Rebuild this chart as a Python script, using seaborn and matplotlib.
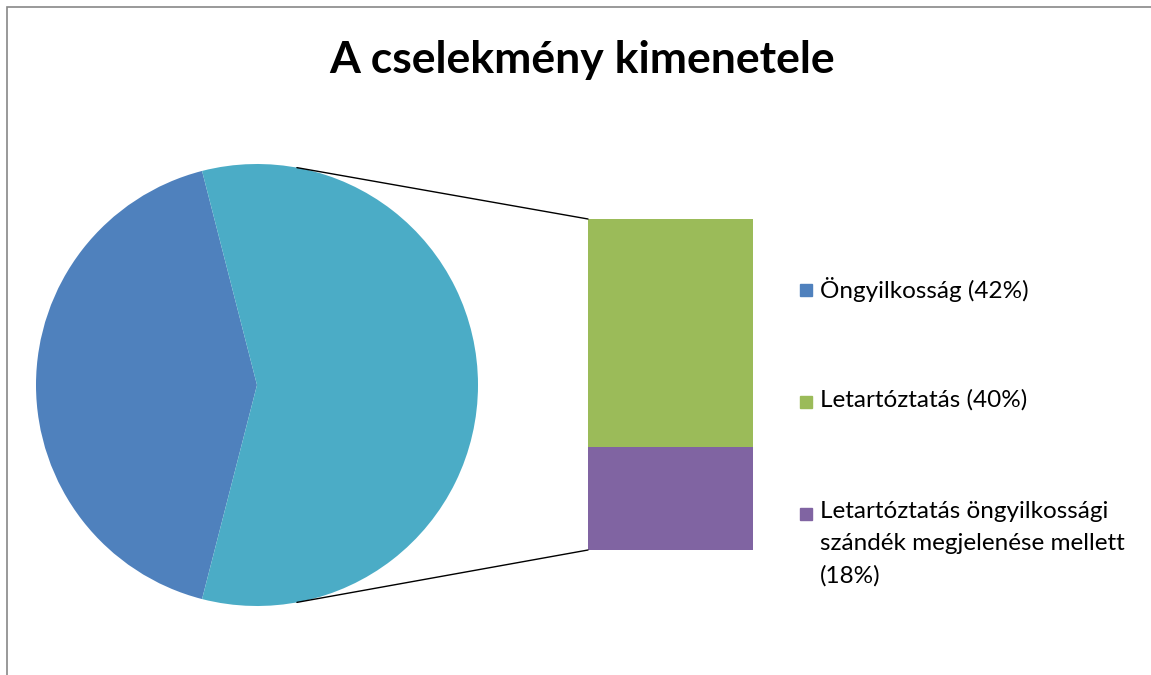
import numpy as np
import seaborn as sns
import matplotlib.pyplot as plt
from matplotlib.patches import ConnectionPatch, Rectangle

title = "A cselekmény kimenetele"
pie_labels = ["Öngyilkosság", "Letartóztatás (összesen)"]
pie_values = [42, 58]
bar_labels = ["Letartóztatás öngyilkossági\nszándék megjelenése mellett\n(18%)", "Letartóztatás (40%)"]
bar_values = [18, 40]
legend_labels = ["Öngyilkosság (42%)", "Letartóztatás (40%)",
                 "Letartóztatás öngyilkossági\nszándék megjelenése mellett\n(18%)"]
pie_colors = ["#4F81BD", "#4BACC6"]
bar_colors = ["#8064A2", "#9BBB59"]
legend_colors = ["#4F81BD", "#9BBB59", "#8064A2"]

sns.set_theme(style="white")
plt.rcParams['font.family'] = ['Lato', 'DejaVu Sans']
plt.rcParams['text.color'] = 'black'

W, H = 1151, 675
fig = plt.figure(figsize=(W / 100, H / 100), dpi=100)

# pie on the left
ax_pie = fig.add_axes([36 / W, (H - 606) / H, 442 / W, 442 / H])
start = 180 - pie_values[0] / 100 * 360 / 2
ax_pie.pie(pie_values, colors=pie_colors, startangle=start, radius=1,
           wedgeprops=dict(linewidth=0))
ax_pie.set_xlim(-1, 1)
ax_pie.set_ylim(-1, 1)
ax_pie.set_aspect("equal")
ax_pie.axis("off")

# stacked bar for the split slice
ax_bar = fig.add_axes([588 / W, (H - 550) / H, 165 / W, 331 / H])
bottom = 0
for val, col in zip(bar_values, bar_colors):
    sns.barplot(x=[0], y=[val], bottom=bottom, color=col, width=1,
                ax=ax_bar, saturation=1, linewidth=0)
    bottom += val
ax_bar.set_xlim(-0.5, 0.5)
ax_bar.set_ylim(0, sum(bar_values))
ax_bar.axis("off")

# connector lines
ang = np.deg2rad(79.6)
for sgn, yb in [(1, sum(bar_values)), (-1, 0)]:
    con = ConnectionPatch(xyA=(np.cos(ang), sgn * np.sin(ang)), coordsA=ax_pie.transData,
                          xyB=(-0.5, yb), coordsB=ax_bar.transData,
                          color="black", lw=1)
    fig.add_artist(con)

fig.text(582 / W, 1 - 60 / H, title, ha="center", va="center",
         fontsize=32, fontweight="bold", color="black")

# legend
for lab, col, yp in zip(legend_labels, legend_colors, [290, 402, 514]):
    fig.add_artist(Rectangle((800 / W, 1 - (yp + 6) / H), 12 / W, 12 / H,
                             transform=fig.transFigure, color=col))
    fig.text(820 / W, 1 - (yp - 13) / H, lab, ha="left", va="top",
             fontsize=17.5, linespacing=1.63, color="black")

# chart border
fig.add_artist(Rectangle((7 / W, -0.1), 1.2, 1 - 7 / H + 0.1, transform=fig.transFigure,
                         fill=False, edgecolor="#888888", lw=1.2))

fig.savefig("out.png", dpi=100)
